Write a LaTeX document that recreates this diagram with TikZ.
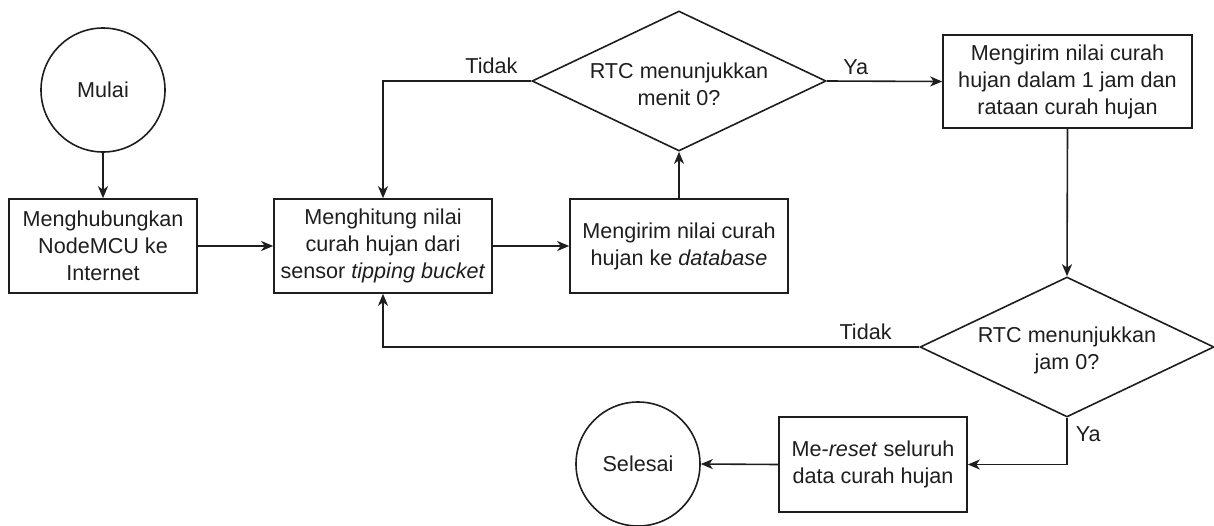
\documentclass[tikz,border=0pt]{standalone}
\usepackage{fontspec}
\setmainfont{Liberation Sans}
\usetikzlibrary{shapes.geometric,arrows.meta}
\definecolor{ink}{RGB}{30,30,30}
\begin{document}
\begin{tikzpicture}[x=1pt,y=-1pt,
  every node/.style={font=\fontsize{21.6pt}{27pt}\selectfont, text=ink},
  terminal/.style={draw=ink, circle, line width=1.6pt, minimum size=124pt, inner sep=0pt},
  process/.style={draw=ink, rectangle, line width=1.6pt, align=center, inner sep=0pt, minimum height=94pt},
  decision/.style={draw=ink, diamond, line width=1.6pt, inner sep=0pt, minimum width=294pt, minimum height=140pt},
  dtext/.style={align=center, inner sep=0pt},
  conn/.style={draw=ink, line width=1.6pt, -{Stealth[length=12pt,width=10pt,inset=3.5pt]}},
  lbl/.style={inner sep=0pt}
]
\useasboundingbox (0,0) rectangle (1214,525);

\node[terminal] (mulai) at (103,90) {Mulai};
\node[process, minimum width=188pt] (b1) at (103,246) {Menghubungkan\\NodeMCU ke\\Internet};
\node[process, minimum width=218pt] (b2) at (383,246) {Menghitung nilai\\curah hujan dari\\sensor \textit{tipping bucket}};
\node[process, minimum width=218pt] (b3) at (679,246) {Mengirim nilai curah\\hujan ke \textit{database}};
\node[decision] (d1) at (679,81) {};
\node[dtext] (d1t) at (679,84) {RTC menunjukkan\\menit 0?};
\node[process, minimum width=249pt, minimum height=93pt] (b4) at (1067.5,81.5) {Mengirim nilai curah\\hujan dalam 1 jam dan\\rataan curah hujan};
\node[decision] (d2) at (1067,347) {};
\node[dtext] (d2t) at (1067,350) {RTC menunjukkan\\jam 0?};
\node[process, minimum width=188pt, minimum height=95pt] (b5) at (873,464.5) {Me-\textit{reset} seluruh\\data curah hujan};
\node[terminal] (selesai) at (638,464) {Selesai};

\draw[conn] (mulai.south) -- (b1.north);
\draw[conn] (b1.east) -- (b2.west);
\draw[conn] (b2.east) -- (b3.west);
\draw[conn] (b3.north) -- (d1.south);
\draw[conn] (d1.west) -| node[lbl, pos=0.134, anchor=south, yshift=6pt] (t1) {Tidak} (b2.north);
\draw[conn] (d1.east) -- node[lbl, pos=0.25, anchor=south, yshift=6pt] (y1) {Ya} (b4.west);
\draw[conn] (b4.south) -- (d2.north);
\draw[conn] (d2.west) -| node[lbl, pos=0.05, anchor=south, yshift=6pt] (t2) {Tidak} (b2.south);
\draw[conn] (d2.south) |- node[lbl, pos=0.17, anchor=west, xshift=8pt] (y2) {Ya} (b5.east);
\draw[conn] (b5.west) -- (selesai.east);
\end{tikzpicture}
\end{document}
